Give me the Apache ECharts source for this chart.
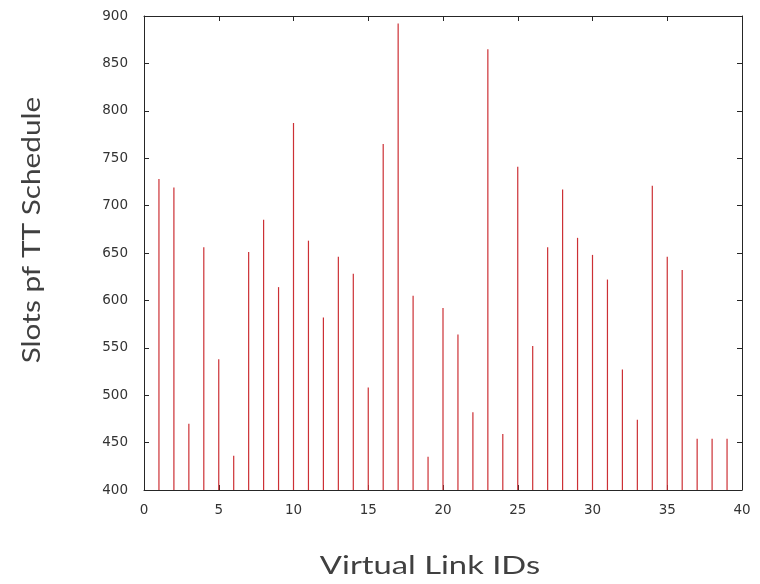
<!DOCTYPE html>
<html>
<head>
<meta charset="utf-8">
<script src="https://cdn.jsdelivr.net/npm/echarts@6/dist/echarts.min.js"></script>
<style>html,body{margin:0;padding:0;background:#fff}#c{width:760px;height:584px}</style>
</head>
<body>
<div id="c"></div>
<script>
const ids = [1,2,3,4,5,6,7,8,9,10,11,12,13,14,15,16,17,18,19,20,21,22,23,24,25,26,27,28,29,30,31,32,33,34,35,36,37,38,39];
const slots = [728,719,470,656,538,436,651,685,614,787,663,582,646,628,508,765,892,605,435,592,564,482,865,459,741,552,656,717,666,648,622,527,474,721,646,632,454,454,454];
const xTicks = [0,5,10,15,20,25,30,35,40];
const yTicks = [400,450,500,550,600,650,700,750,800,850,900];
const xTitle = 'Virtual Link IDs';
const yTitle = 'Slots pf TT Schedule';

const xMin = xTicks[0], xMax = xTicks[xTicks.length-1], xStep = xTicks[1]-xTicks[0];
const yMin = yTicks[0], yMax = yTicks[yTicks.length-1], yStep = yTicks[1]-yTicks[0];

const frame = '#262626';
const labelStyle = {color:'#333', fontFamily:'DejaVu Sans', fontSize:13.5};

function mkX(pos, showLabel){
  return {type:'value', position:pos, min:xMin, max:xMax, interval:xStep,
    axisLine:{show:true, onZero:false, lineStyle:{color:frame, width:1}},
    axisTick:{show:true, inside:true, length:5, lineStyle:{color:frame}},
    axisLabel:Object.assign({show:showLabel, margin:13}, labelStyle),
    splitLine:{show:false}};
}
function mkY(pos, showLabel){
  return {type:'value', position:pos, min:yMin, max:yMax, interval:yStep,
    axisLine:{show:true, onZero:false, lineStyle:{color:frame, width:1}},
    axisTick:{show:true, inside:true, length:5, lineStyle:{color:frame}},
    axisLabel:Object.assign({show:showLabel, margin:16}, labelStyle),
    splitLine:{show:false}};
}

const chart = echarts.init(document.getElementById('c'), null, {renderer:'canvas'});
chart.setOption({
  backgroundColor:'#fff',
  animation:false,
  grid:{left:144, right:18, top:16, bottom:94},
  xAxis:[mkX('bottom', true), mkX('top', false)],
  yAxis:[mkY('left', true), mkY('right', false)],
  graphic:[
    {type:'text', x:430, y:566, scaleX:1.31, scaleY:1, z:10, style:{text:xTitle, fill:'#404040', fontFamily:'Lato', fontSize:25, textAlign:'center', textVerticalAlign:'middle'}},
    {type:'text', x:45, y:230, scaleX:1.215, scaleY:1, z:10, rotation:Math.PI/2, style:{text:yTitle, fill:'#404040', fontFamily:'Lato', fontSize:24.5, textAlign:'center', textVerticalAlign:'bottom'}}
  ],
  series:[{
    type:'custom',
    xAxisIndex:0, yAxisIndex:0,
    z:1,
    data: ids.map((id,i)=>[id, slots[i]]),
    renderItem:function(params, api){
      const x = api.value(0), v = api.value(1);
      const p0 = api.coord([x, yMin]);
      const p1 = api.coord([x, v]);
      return {type:'line', shape:{x1:p0[0], y1:p0[1], x2:p1[0], y2:p1[1]},
        style:{stroke:'#cc3035', lineWidth:1.2}};
    }
  }]
});
</script>
</body>
</html>
